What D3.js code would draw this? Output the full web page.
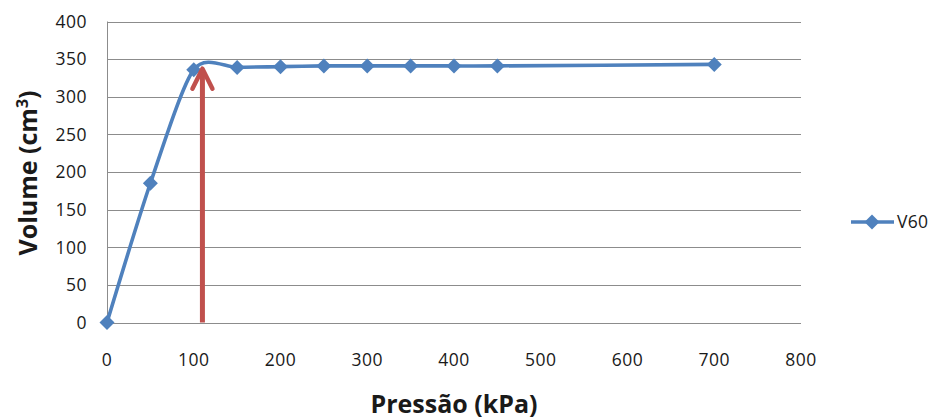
<!DOCTYPE html>
<html><head><meta charset="utf-8">
<script src="https://cdn.jsdelivr.net/npm/d3@7"></script>
<style>body{margin:0;background:#fff}svg{display:block}text{font-family:"Open Sans","Liberation Sans",sans-serif}</style>
</head><body>
<svg id="c" width="936" height="419"></svg>
<script>
const pressures = [0, 50, 100, 150, 200, 250, 300, 350, 400, 450, 700];
const volumes = [0, 185, 336, 339, 340, 341, 341, 341, 341, 341, 343];
const seriesName = "V60";
const xTicks = [0, 100, 200, 300, 400, 500, 600, 700, 800];
const yTicks = [0, 50, 100, 150, 200, 250, 300, 350, 400];
const arrowX = 110, arrowFrom = 0, arrowTo = 340;

const svg = d3.select("#c");
const x = d3.scaleLinear().domain([0, 800]).range([107, 801]);
const y = d3.scaleLinear().domain([0, 400]).range([322.5, 21.5]);
const grid = "#8c8c8c";
const txt = "#1a1a1a";

// gridlines
svg.append("g").selectAll("line").data(yTicks).join("line")
  .attr("x1", x(0)).attr("x2", x(800))
  .attr("y1", d => Math.round(y(d)) + 0.5).attr("y2", d => Math.round(y(d)) + 0.5)
  .attr("stroke", grid).attr("stroke-width", 1);
svg.append("line").attr("x1", Math.round(x(0)) + 0.5).attr("x2", Math.round(x(0)) + 0.5)
  .attr("y1", y(400)).attr("y2", y(0)).attr("stroke", grid);

// y tick labels
svg.append("g").selectAll("text").data(yTicks).join("text")
  .attr("x", 87).attr("y", d => y(d)).attr("dy", "0.36em")
  .attr("text-anchor", "end").attr("font-size", 17.5).attr("letter-spacing", 0.5).attr("fill", txt)
  .text(d => d);
// x tick labels
svg.append("g").selectAll("text").data(xTicks).join("text")
  .attr("x", d => x(d)).attr("y", 365.5)
  .attr("text-anchor", "middle").attr("font-size", 17.5).attr("letter-spacing", 0.5).attr("fill", txt)
  .text(d => d);

// titles
svg.append("text").attr("x", 454).attr("y", 413).attr("text-anchor", "middle")
  .attr("font-size", 25).attr("font-weight", "bold").attr("fill", txt).text("Pressão (kPa)");
svg.append("text").attr("transform", "translate(37,173) rotate(-90)").attr("text-anchor", "middle")
  .attr("font-size", 25).attr("font-weight", "bold").attr("fill", txt)
  .html('Volume (cm<tspan dy="-9" font-size="16">3</tspan><tspan dy="9">)</tspan>');

const blue = "#4F81BD";
const data = pressures.map((p, i) => ({p, v: volumes[i]}));
const line = d3.line().x(d => x(d.p)).y(d => y(d.v)).curve(d3.curveCardinal.tension(0.2));
svg.append("path").datum(data).attr("d", line).attr("fill", "none")
  .attr("stroke", blue).attr("stroke-width", 3.6);

const diamond = "M0,-7.5L7.5,0L0,7.5L-7.5,0Z";
svg.append("g").selectAll("path").data(data).join("path")
  .attr("transform", d => `translate(${x(d.p)},${y(d.v)})`)
  .attr("d", diamond).attr("fill", blue);

// red arrow
const red = "#C0504D";
const ax = x(arrowX), tipY = y(arrowTo);
svg.append("line").attr("x1", ax).attr("x2", ax).attr("y1", y(arrowFrom)).attr("y2", tipY + 3)
  .attr("stroke", red).attr("stroke-width", 5);
svg.append("path").attr("d", `M${ax - 10},${tipY + 22}L${ax},${tipY + 2}L${ax + 10},${tipY + 22}`)
  .attr("fill", "none").attr("stroke", red).attr("stroke-width", 4.5).attr("stroke-linecap", "round").attr("stroke-linejoin", "round");

// legend
svg.append("line").attr("x1", 851).attr("x2", 894).attr("y1", 222).attr("y2", 222)
  .attr("stroke", blue).attr("stroke-width", 3.6);
svg.append("path").attr("transform", "translate(872,222)").attr("d", diamond).attr("fill", blue);
svg.append("text").attr("x", 897).attr("y", 222).attr("dy", "0.36em").attr("font-size", 17.5)
  .attr("letter-spacing", 0.3).attr("fill", txt).text(seriesName);
</script>
</body></html>
